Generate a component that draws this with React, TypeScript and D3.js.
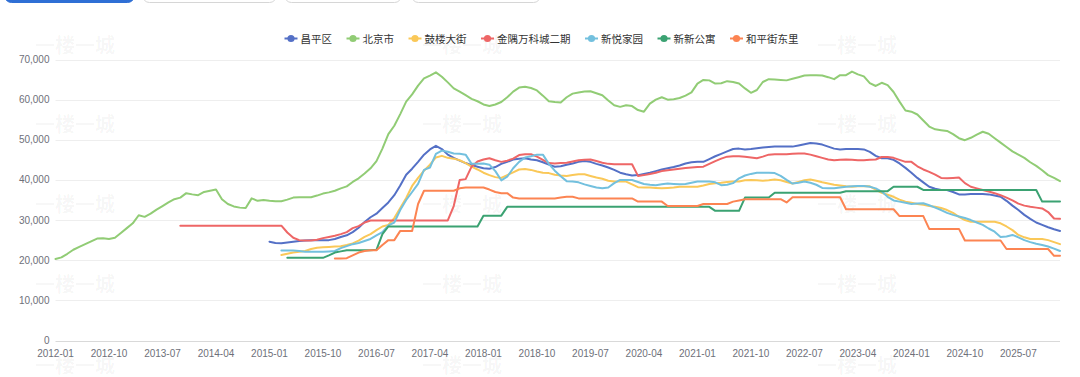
import React from 'react';
import * as d3 from 'd3';

const W = 1080;
const H = 377;

// categories: monthly 2012-01 .. 2026-02
const months: string[] = d3
  .timeMonth.range(new Date(2012, 0, 1), new Date(2026, 2, 1))
  .map((d) => d3.timeFormat('%Y-%m')(d));

const tickLabels = [
  '2012-01', '2012-10', '2013-07', '2014-04', '2015-01', '2015-10', '2016-07',
  '2017-04', '2018-01', '2018-10', '2019-07', '2020-04', '2021-01', '2021-10',
  '2022-07', '2023-04', '2024-01', '2024-10', '2025-07',
];
const yTicks = [0, 10000, 20000, 30000, 40000, 50000, 60000, 70000];

const seriesNames = ['昌平区', '北京市', '鼓楼大街', '金隅万科城二期', '新悦家园', '新新公寓', '和平街东里'];
const seriesColors = ['#5470c6', '#91cc75', '#fac858', '#ee6666', '#73c0de', '#3ba272', '#fc8452'];

const lead = (n: number): (number | null)[] => Array(n).fill(null);

const changping: (number | null)[] = [
  ...lead(36),
  24600, 24300, 24200, 24400, 24600, 24800, 24900, 25000, 25000, 25000,
  25000, 25300, 25800, 26200, 27000, 28100, 29500, 30700, 31600, 33000,
  34400, 36200, 38600, 41300, 42800, 44500, 46300, 47600, 48500, 47700,
  46300, 45500, 44800, 44200, 43700, 43300, 42900, 42800, 43200, 44000,
  44500, 45100, 45300, 45400, 45100, 44900, 44400, 43800, 43300, 43400,
  43800, 44100, 44500, 44700, 44500, 44000, 43600, 43100, 42500, 41800,
  41400, 41100, 41200, 41500, 41800, 42200, 42600, 42900, 43200, 43600,
  44100, 44400, 44500, 44500, 45200, 45900, 46500, 47100, 47700, 47800,
  47600, 47700, 47900, 48100, 48200, 48300, 48300, 48300, 48300, 48600,
  48900, 49200, 49100, 48800, 48300, 47800, 47600, 47700, 47700, 47700,
  47600, 47000, 46000, 45400, 45400, 45000, 44100, 43000, 41800, 40500,
  39400, 38300, 37800, 37500, 37500, 37000, 36400, 36400, 36500, 36500,
  36500, 36400, 36100, 35800, 34800, 33600, 32500, 31300, 30300, 29400,
  28800, 28200, 27700, 27300,
];

const beijing: (number | null)[] = [
  20300, 20700, 21600, 22600, 23300, 24000, 24700, 25400, 25500, 25300,
  25600, 26800, 28000, 29200, 31200, 30800, 31600, 32600, 33500, 34400,
  35200, 35600, 36700, 36400, 36200, 37000, 37300, 37600, 35200, 34000,
  33400, 33100, 33000, 35400, 34800, 35000, 34800, 34700, 34700, 35100,
  35600, 35700, 35700, 35700, 36100, 36600, 36900, 37300, 37900, 38400,
  39500, 40400, 41600, 42900, 44700, 47800, 51400, 53500, 56400, 59500,
  61300, 63500, 65300, 66000, 66800, 65700, 64300, 62800, 62000, 61100,
  60200, 59600, 58800, 58400, 58800, 59400, 60600, 62000, 63000, 63200,
  62900, 62300, 61000, 59600, 59400, 59300, 60600, 61500, 61800, 62000,
  62100, 61600, 61100, 59800, 58600, 58200, 58600, 58400, 57400, 57000,
  59000, 60000, 60600, 60000, 60100, 60400, 61000, 61800, 64000, 64900,
  64800, 64000, 64100, 64600, 64400, 64000, 62800, 61700, 62400, 64400,
  65100, 65000, 64900, 64800, 65200, 65600, 66000, 66100, 66100, 66000,
  65600, 65100, 66100, 66100, 67000, 66300, 65800, 64100, 63400, 64200,
  63600, 61900, 59500, 57300, 57000, 56300, 54800, 53300, 52600, 52400,
  52200, 51400, 50400, 49900, 50500, 51300, 52000, 51500, 50400, 49300,
  48200, 47100, 46300, 45500, 44400, 43500, 42400, 41200, 40500, 39700,
];

const gulou: (number | null)[] = [
  ...lead(38),
  21300, 21600, 21900, 22100, 22300, 22800, 23100, 23200, 23300, 23400,
  23500, 23800, 24200, 24900, 25800, 26500, 27500, 28400, 28800, 30500,
  33000, 35500, 38500, 40500, 42300, 43800, 45600, 46000, 45500, 45300,
  44900, 44200, 43300, 42600, 41800, 41200, 40700, 40500, 41200, 41900,
  42600, 42700, 42500, 42100, 41800, 41700, 41300, 41100, 41000, 41200,
  41400, 41400, 41000, 40600, 40300, 39800, 39600, 39600, 39600, 38900,
  38200, 38100, 38100, 38000, 37900, 38000, 38100, 38300, 38300, 38300,
  38300, 38600, 39000, 39200, 39300, 39500, 39600, 39600, 39900, 40000,
  39900, 39800, 39900, 40100, 39900, 39500, 39100, 39500, 39900, 40100,
  39800, 39400, 39100, 38800, 38600, 38400, 38300, 38400, 38500, 38400,
  37600, 36800, 36300, 35800, 35100, 34600, 34300, 34000, 33800, 33500,
  33300, 33000, 32500, 31800, 30800, 30000, 29600, 29600, 29600, 29600,
  29600, 29200, 28400, 27500, 26300, 25700, 25300, 25300, 25300, 25000,
  24500, 24000,
];

const jinyu: (number | null)[] = [
  ...lead(21),
  28600, 28600, 28600, 28600, 28600, 28600, 28600, 28600, 28600, 28600,
  28600, 28600, 28600, 28600, 28600, 28600, 28600, 28600,
  26900, 25600, 25000, 24900, 24900, 25100, 25500, 25800, 26100, 26500,
  27000, 28000, 28500, 29400, 29900,
  29900, 29900, 29900, 29900, 29900, 29900, 29900, 29900, 29900, 29900,
  29900, 29900, 29900,
  33500, 40000, 40200, 43300, 44600, 45100, 45400, 44900, 44500, 44800,
  45300, 46200, 46400, 46400, 45800, 45000, 44200, 44100, 44200, 44300,
  44600, 44900, 45000, 45100, 44700, 44300, 44000, 43900, 43900, 43900,
  43900, 41000, 41200, 41500, 41800, 42200, 42400, 42600, 42800, 43000,
  43100, 43200, 43300, 44000, 44700, 45300, 45800, 45900, 45900, 45800,
  45600, 45400, 45800, 46300, 46400, 46400, 46400, 46500, 46600, 46600,
  46300, 45900, 45500, 45100, 44900, 45000, 45100, 45000, 44900, 44900,
  45000, 45100, 45700, 45700, 45500, 45000, 44500, 44500, 43400, 42600,
  42000, 41300, 40500, 40400, 40500, 40600, 39200, 38300, 37900, 37500,
  37100, 36700, 36200, 35600, 34900, 34100, 33600, 33300, 33100, 32900,
  32000, 30400, 30300,
];

const xinyue: (number | null)[] = [
  ...lead(38),
  22400, 22400, 22400, 22300, 22100, 22100, 22100, 22100, 22200, 22300,
  23000, 23500, 24000, 24300, 24800, 25300, 26200, 27000, 28700, 29400,
  32500, 35000, 37000, 39000, 42500, 43100, 46500, 47300, 47000, 46600,
  46500, 46300, 44000, 44000, 44100, 43800, 42200, 39900, 40800, 42900,
  44500, 45600, 45900, 46300, 46300, 44000, 42300, 40900, 39700, 39600,
  39400, 38900, 38500, 38100, 37900, 38100, 39200, 40000, 40000, 40000,
  39500, 39000, 38800, 38700, 38900, 39100, 39000, 38900, 39000, 39300,
  39600, 39600, 39600, 39400, 38700, 38800, 39200, 40400, 41100, 41500,
  41800, 41800, 41800, 41700, 41000, 40000, 39100, 39300, 39600, 39300,
  38800, 38000, 37900, 37900, 38100, 38300, 38400, 38500, 38500, 38300,
  37900, 37100, 35800, 34900, 34600, 34300, 34000, 34100, 34200, 33700,
  33100, 32500, 31800, 31300, 30900, 30500, 30000, 29400, 28800, 27900,
  27100, 25800, 25900, 26300, 25700, 25000, 24500, 24100, 23800, 23400,
  22900, 22300,
];

const xinxin: (number | null)[] = [
  ...lead(39),
  20600, 20600, 20600, 20600, 20600, 20600, 20600,
  21200, 21900, 22200, 22500, 22500, 22500, 22500, 22500, 22600, 26500,
  28400, 28400, 28400, 28400, 28400, 28400, 28400, 28400,
  28400, 28400, 28400, 28400, 28400, 28400, 28400, 28400,
  31100, 31100, 31100, 31100,
  33300, 33300, 33300, 33300, 33300, 33300, 33300, 33300, 33300, 33300,
  33300, 33300, 33300, 33300, 33300, 33300, 33300, 33300, 33300, 33300,
  33300, 33300, 33300, 33300, 33300, 33300, 33300, 33300, 33300, 33300,
  33300, 33300, 33300, 33300, 33300,
  32300, 32300, 32300, 32300, 32300,
  35600, 35600, 35600, 35600, 35600,
  36800, 36800, 36800, 36800, 36800, 36800, 36800, 36800, 36800, 36800, 36800, 36800,
  37200, 37200, 37200, 37200, 37200, 37200, 37200, 37200,
  38300, 38300, 38300, 38300, 38300,
  37500, 37500, 37500, 37500, 37500, 37500, 37500, 37500, 37500, 37500,
  37500, 37500, 37500, 37500, 37500, 37500, 37500, 37500, 37500, 37500,
  34600, 34600, 34600, 34600,
];

const hepingjie: (number | null)[] = [
  ...lead(47),
  20400, 20400, 20500, 21200, 21900, 22300, 22500, 22500, 23800, 25000,
  25000, 27300, 27300, 27300, 34000,
  37300, 37300, 37300, 37300, 37300, 37300,
  37900, 38100, 38100, 38100, 38100,
  37600, 37000, 36700, 36700, 35600,
  35400, 35400, 35400, 35400, 35400, 35400, 35400,
  35600, 35800, 35800,
  35400, 35400, 35400, 35400, 35400, 35400, 35400, 35400, 35400, 35400,
  34600, 34600, 34600, 34600, 34600,
  33500, 33500, 33500, 33500, 33500, 33500,
  34000, 34000, 34000, 34000, 34000,
  34600, 34900,
  35200, 35200, 35200, 35200, 35200, 35200, 35200,
  34400,
  35700, 35700, 35700, 35700, 35700, 35700, 35700, 35700, 35700,
  32700, 32700, 32700, 32700, 32700, 32700, 32700, 32700, 32700,
  31000, 31000, 31000, 31000, 31000,
  27800, 27800, 27800, 27800, 27800, 27800,
  24900, 24900, 24900, 24900, 24900, 24900, 24900,
  22800, 22800, 22800, 22800, 22800, 22800, 22800, 22800,
  21100, 21100,
];

const seriesData = [changping, beijing, gulou, jinyu, xinyue, xinxin, hepingjie];

// layout constants
const PLOT_LEFT = 55.5;
const PLOT_RIGHT = 1060;
const PLOT_TOP = 59.5;
const PLOT_BOTTOM = 340.5;
const AXIS_FONT = '"Liberation Sans", Arial, sans-serif';
const CJK_FONT = '"Noto Sans CJK SC", "Noto Sans", sans-serif';

const watermarkCols = [75, 462, 857];
const watermarkRows = [44, 123, 203, 283, 364];

const buttons = [
  { x0: 4, x1: 134, filled: true },
  { x0: 142, x1: 276, filled: false },
  { x0: 284, x1: 401, filled: false },
  { x0: 411, x1: 540, filled: false },
];

export default function App() {
  const x = d3.scalePoint<string>().domain(months).range([PLOT_LEFT, PLOT_RIGHT]);
  const y = d3.scaleLinear().domain([0, 70000]).range([PLOT_BOTTOM, PLOT_TOP]);

  const lineGen = d3
    .line<number | null>()
    .defined((d) => d != null)
    .x((_, i) => x(months[i]) as number)
    .y((d) => y(d as number));

  // legend layout
  const legendFont = 10.5;
  const iconBlock = 16;
  const legendGap = 14.5;
  const itemWidths = seriesNames.map((n) => iconBlock + n.length * legendFont);
  const totalLegend = itemWidths.reduce((a, b) => a + b, 0) + legendGap * (seriesNames.length - 1);
  let lx = 541.5 - totalLegend / 2;
  const legendItems = seriesNames.map((n, i) => {
    const item = { name: n, color: seriesColors[i], x: lx };
    lx += itemWidths[i] + legendGap;
    return item;
  });
  const legendY = 38.5;

  return (
    <svg
      width={W}
      height={H}
      style={{ position: 'fixed', left: 0, top: 0, background: '#fff' }}
    >
      <rect x={0} y={0} width={W} height={H} fill="#fff" />

      {/* top buttons (cropped) */}
      {buttons.map((b, i) => (
        <rect
          key={i}
          x={b.x0 + 0.5}
          y={-20}
          width={b.x1 - b.x0}
          height={22.5}
          rx={7}
          fill={b.filled ? '#2f6fd5' : '#fff'}
          stroke={b.filled ? '#2f6fd5' : '#d6d6d6'}
        />
      ))}

      {/* watermarks */}
      {watermarkRows.map((wy) =>
        watermarkCols.map((wx) => (
          <text
            key={`${wx}-${wy}`}
            x={wx}
            y={wy}
            textAnchor="middle"
            dominantBaseline="central"
            fontFamily={CJK_FONT}
            fontWeight={700}
            fontSize={20}
            fill="#000"
            fillOpacity={0.045}
          >
            一楼一城
          </text>
        ))
      )}

      {/* grid lines */}
      {yTicks.map((t) => (
        <line
          key={t}
          x1={PLOT_LEFT}
          x2={PLOT_RIGHT}
          y1={Math.round(y(t)) + 0.5}
          y2={Math.round(y(t)) + 0.5}
          stroke={t === 0 ? '#d9d9d9' : '#eeeeee'}
          strokeWidth={1}
        />
      ))}

      {/* y labels */}
      {yTicks.map((t) => (
        <text
          key={'yl' + t}
          x={49.5}
          y={y(t)}
          textAnchor="end"
          dominantBaseline="central"
          fontFamily={AXIS_FONT}
          fontSize={10}
          fill="#6e7079"
        >
          {d3.format(',')(t)}
        </text>
      ))}

      {/* x labels */}
      {tickLabels.map((t) => (
        <text
          key={'xl' + t}
          x={x(t) as number}
          y={356.5}
          textAnchor="middle"
          fontFamily={AXIS_FONT}
          fontSize={10}
          fill="#6e7079"
        >
          {t}
        </text>
      ))}

      {/* series lines */}
      {seriesData.map((s, i) => (
        <path
          key={seriesNames[i]}
          d={lineGen(s) || ''}
          fill="none"
          stroke={seriesColors[i]}
          strokeWidth={2}
          strokeLinejoin="round"
          strokeLinecap="round"
        />
      ))}

      {/* legend */}
      {legendItems.map((it) => (
        <g key={it.name}>
          <line
            x1={it.x}
            x2={it.x + 13}
            y1={legendY}
            y2={legendY}
            stroke={it.color}
            strokeWidth={2}
          />
          <circle cx={it.x + 6.5} cy={legendY} r={3.6} fill={it.color} />
          <text
            x={it.x + iconBlock}
            y={legendY}
            dominantBaseline="central"
            fontFamily={CJK_FONT}
            fontSize={legendFont}
            fill="#333"
          >
            {it.name}
          </text>
        </g>
      ))}
    </svg>
  );
}
